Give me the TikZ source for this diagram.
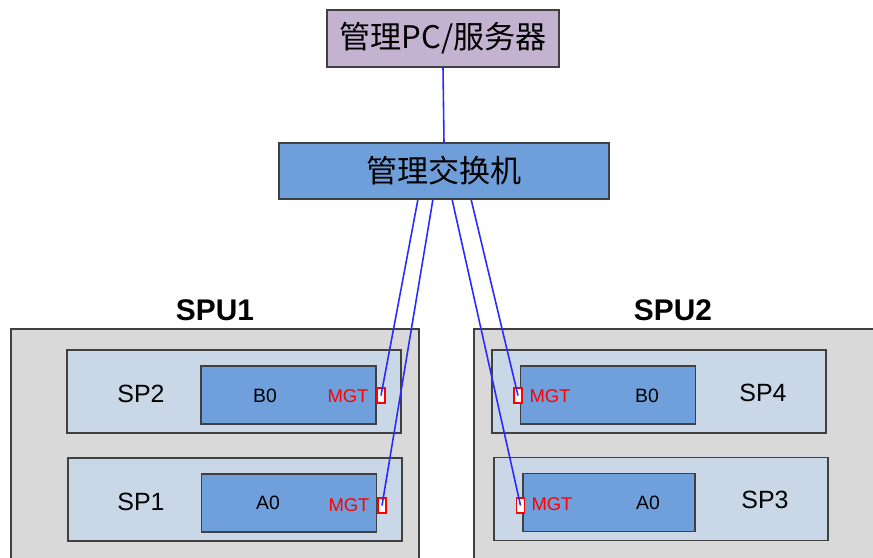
\documentclass[tikz,border=0pt]{standalone}
\usepackage{fontspec}
\setmainfont{Liberation Sans}
\newfontfamily\cjk{Noto Sans CJK SC}
\usepackage{xcolor}
\usepackage{tikz}
\usetikzlibrary{positioning}

\definecolor{pcfill}{HTML}{C3B2D0}
\definecolor{swfill}{HTML}{6E9FDA}
\definecolor{spufill}{HTML}{D9D9D9}
\definecolor{spfill}{HTML}{C9D7E7}
\definecolor{chipfill}{HTML}{70A0DB}
\definecolor{edgegray}{HTML}{404040}
\definecolor{linkblue}{HTML}{2A2AFF}

\begin{document}
\begin{tikzpicture}[
    x=0.02cm, y=-0.02cm,
    topbox/.style={draw=edgegray, line width=0.7pt, rectangle, font=\cjk\fontsize{17.7}{20}\selectfont},
    spubox/.style={draw=edgegray, line width=0.7pt, rectangle, fill=spufill, minimum width=8.16cm, minimum height=5.42cm},
    spbox/.style={draw=edgegray, line width=0.7pt, rectangle, fill=spfill, minimum width=6.68cm, minimum height=1.66cm},
    chip/.style={draw=edgegray, line width=0.7pt, rectangle, fill=chipfill, minimum width=3.5cm, minimum height=1.16cm},
    port/.style={draw=red, line width=1pt, rectangle, fill=white, inner sep=0pt, minimum width=0.16cm, minimum height=0.3cm},
    spulabel/.style={font=\bfseries\fontsize{17}{20}\selectfont},
    splabel/.style={font=\fontsize{14.2}{17}\selectfont},
    chiplabel/.style={font=\fontsize{11}{13}\selectfont},
    mgt/.style={text=red, font=\fontsize{10.5}{12}\selectfont},
    link/.style={draw=linkblue, line width=0.9pt}
]
    \clip (0,0) rectangle (873,558);
    \fill[white] (0,0) rectangle (873,558);

    \node (pc) [topbox, fill=pcfill, minimum width=4.64cm, minimum height=1.14cm] at (443,38.5) {管理PC/服务器};
    \node (sw) [topbox, fill=swfill, minimum width=6.6cm, minimum height=1.12cm] at (444,171) {管理交换机};

    \node (spu1) [spubox] at (215,464.5) {};
    \node (spu2) [spubox, minimum width=8.92cm] at (697,464.5) {};
    \node (spu1lbl) [spulabel] at (215,310) {SPU1};
    \node (spu2lbl) [spulabel] at (673,310) {SPU2};

    \node (sp2) [spbox] at (234,391.5) {};
    \node (sp1) [spbox] at (235,499.5) {};
    \node (sp4) [spbox] at (659,391.5) {};
    \node (sp3) [spbox] at (661,499) {};
    \node (sp2lbl) [splabel] at (141,394) {SP2};
    \node (sp1lbl) [splabel] at (141,502) {SP1};
    \node (sp4lbl) [splabel] at (763,393) {SP4};
    \node (sp3lbl) [splabel] at (765,500) {SP3};

    \node (b0a) [chip] at (288.5,395) {};
    \node (a0a) [chip] at (289,503) {};
    \node (b0b) [chip] at (608,395) {};
    \node (a0b) [chip, minimum width=3.44cm] at (609,502.5) {};
    \node (b0albl) [chiplabel] at (265,396) {B0};
    \node (a0albl) [chiplabel] at (268,503) {A0};
    \node (b0blbl) [chiplabel] at (647,396) {B0};
    \node (a0blbl) [chiplabel] at (648,503) {A0};
    \node (mgt2) [mgt] at (348,396) {MGT};
    \node (mgt1) [mgt] at (349,505) {MGT};
    \node (mgt4) [mgt] at (550,396) {MGT};
    \node (mgt3) [mgt] at (552,504) {MGT};

    \node (p2) [port] at (381,395.5) {};
    \node (p1) [port] at (382,505.5) {};
    \node (p4) [port] at (518,395.5) {};
    \node (p3) [port] at (520.5,505.5) {};

    \coordinate (sw1) at (418,199);
    \coordinate (sw2) at (433,199);
    \coordinate (sw3) at (452,199);
    \coordinate (sw4) at (471,199);

    \path [link] (pc.south) -- (sw.north);
    \path [link] (sw1) -- (p2.center);
    \path [link] (sw2) -- (p1.center);
    \path [link] (sw3) -- (p3.center);
    \path [link] (sw4) -- (p4.center);
\end{tikzpicture}
\end{document}
